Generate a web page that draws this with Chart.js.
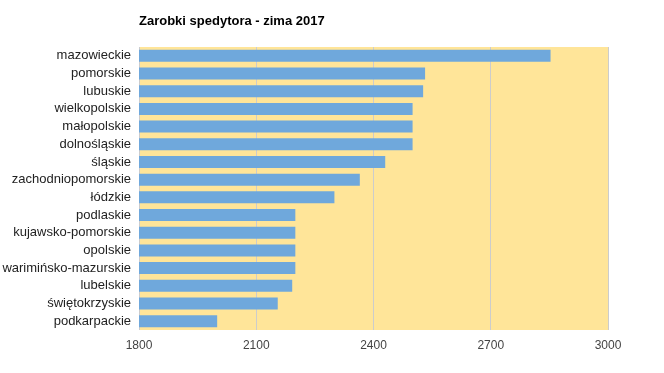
<!DOCTYPE html>
<html>
<head>
<meta charset="utf-8">
<script src="https://cdn.jsdelivr.net/npm/chart.js@4/dist/chart.umd.min.js"></script>
<style>
html,body{margin:0;padding:0;background:#fff;}
#wrap{position:relative;width:664px;height:373px;}
</style>
</head>
<body>
<div id="wrap"><canvas id="c" width="664" height="373"></canvas></div>
<script>
const chartTitle = "Zarobki spedytora - zima 2017";
const categories = ["mazowieckie","pomorskie","lubuskie","wielkopolskie","małopolskie","dolnośląskie","śląskie","zachodniopomorskie","łódzkie","podlaskie","kujawsko-pomorskie","opolskie","warimińsko-mazurskie","lubelskie","świętokrzyskie","podkarpackie"];
const values = [2853,2532,2527,2500,2500,2500,2430,2365,2300,2200,2200,2200,2200,2192,2155,2000];
const xTicks = [1800,2100,2400,2700,3000];

const bgPlugin = {
  id: 'bg',
  beforeDraw(chart){
    const {ctx, chartArea:a} = chart;
    ctx.save();
    ctx.fillStyle = '#FFE599';
    ctx.fillRect(a.left, a.top, a.right-a.left, a.bottom-a.top);
    ctx.restore();
  },
  afterDraw(chart){
    const {ctx, chartArea:a} = chart;
    ctx.save();
    ctx.font = 'bold 13px "Liberation Sans", Arial, sans-serif';
    ctx.fillStyle = '#000';
    ctx.textBaseline = 'middle';
    ctx.textAlign = 'left';
    ctx.fillText(chartTitle, a.left, 21);
    ctx.restore();
  }
};

new Chart(document.getElementById('c'), {
  type: 'bar',
  data: {
    labels: categories,
    datasets: [{
      data: values,
      backgroundColor: '#6FA8DC',
      borderWidth: 0,
      categoryPercentage: 1,
      barPercentage: 0.68
    }]
  },
  plugins: [bgPlugin],
  options: {
    indexAxis: 'y',
    responsive: false,
    animation: false,
    layout: { padding: { top: 47, right: 56, bottom: 18, left: 0 } },
    plugins: { legend: { display: false }, title: { display: false }, tooltip: { enabled: false } },
    scales: {
      x: {
        min: 1800, max: 3000,
        afterBuildTicks(scale){ scale.ticks = xTicks.map(v => ({value: v})); },
        afterFit(scale){ scale.height = 25; },
        grid: { color: '#CCCCCC', drawTicks: false, lineWidth: 1 },
        border: { display: false },
        ticks: { color: '#444', padding: 8, callback: (v) => String(v), font: { family: '"Liberation Sans", Arial, sans-serif', size: 12 }, maxRotation: 0 }
      },
      y: {
        afterFit(scale){ scale.width = 139; },
        grid: { display: false, drawTicks: false },
        border: { display: false },
        ticks: { color: '#222', padding: 8, autoSkip: false, font: { family: '"Liberation Sans", Arial, sans-serif', size: 13 } }
      }
    }
  }
});
</script>
</body>
</html>
